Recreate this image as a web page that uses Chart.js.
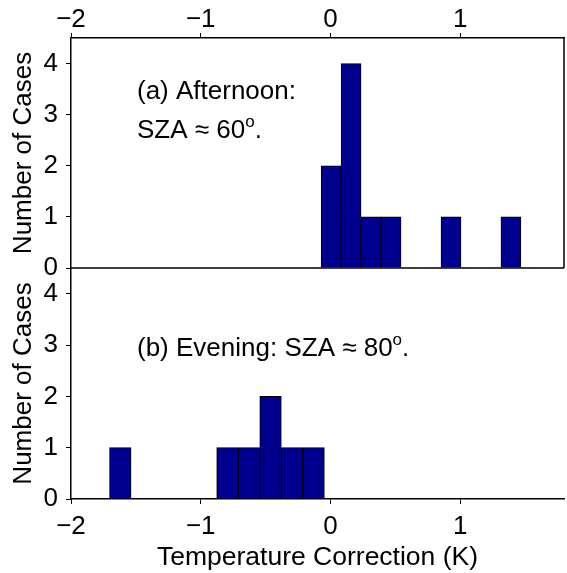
<!DOCTYPE html>
<html>
<head>
<meta charset="utf-8">
<script src="https://cdn.jsdelivr.net/npm/chart.js@4"></script>
<style>
  html, body { margin: 0; padding: 0; background: #fff; }
  #wrap { position: relative; width: 567px; height: 573px; }
  #wrap canvas { position: absolute; left: 0; top: 0; }
</style>
</head>
<body>
<div id="wrap">
  <canvas id="topChart" width="567" height="300"></canvas>
  <canvas id="botChart" width="567" height="573"></canvas>
</div>
<script>
// histogram bins (bin centre in K) and counts
const topCenters = [0.005, 0.159, 0.313, 0.467, 0.929, 1.391];
const topCounts  = [2, 4, 1, 1, 1, 1];
const botCenters = [-1.620, -0.794, -0.628, -0.462, -0.296, -0.130];
const botCounts  = [1, 1, 1, 2, 1, 1];

const xTicks = [-2, -1, 0, 1];
const yTicks = [0, 1, 2, 3, 4];
const xRange = [-2, 1.8];
const yRange = [0, 4.5];

const FONT = 'Liberation Sans, Arial, Helvetica, sans-serif';
const BAR = '#00008f';

Chart.defaults.font.family = FONT;
Chart.defaults.color = '#000';

function fmt(v) {
  return v < 0 ? '\u2212' + Math.abs(v) : String(v);
}

// box lines that the axes themselves don't draw
const framePlugin = {
  id: 'frame',
  afterDraw(chart, args, opts) {
    const { ctx, chartArea: a } = chart;
    ctx.save();
    ctx.strokeStyle = '#000';
    ctx.lineWidth = 1.5;
    ctx.beginPath();
    (opts.sides || []).forEach(s => {
      if (s === 'right') { ctx.moveTo(a.right, a.top); ctx.lineTo(a.right, a.bottom); }
      if (s === 'bottom') { ctx.moveTo(a.left, a.bottom); ctx.lineTo(a.right, a.bottom); }
    });
    ctx.stroke();
    ctx.restore();
  }
};

// panel captions, with a raised "o" for degrees
const notePlugin = {
  id: 'note',
  afterDraw(chart, args, opts) {
    const { ctx, chartArea: a } = chart;
    ctx.save();
    ctx.fillStyle = '#000';
    ctx.textBaseline = 'alphabetic';
    (opts.lines || []).forEach(l => {
      let x = a.left + l.dx;
      const y = a.top + l.dy;
      l.parts.forEach(p => {
        ctx.font = (p.sup ? '17px ' : '26px ') + FONT;
        ctx.fillText(p.t, x, p.sup ? y - 11 : y);
        x += ctx.measureText(p.t).width;
      });
    });
    ctx.restore();
  }
};

function histOptions(cfg) {
  return {
    responsive: false,
    animation: false,
    layout: { padding: cfg.padding },
    plugins: {
      legend: { display: false },
      tooltip: { enabled: false },
      frame: { sides: cfg.sides },
      note: { lines: cfg.lines }
    },
    scales: {
      x: {
        type: 'linear',
        position: cfg.xPos,
        min: xRange[0], max: xRange[1],
        offset: false,
        afterBuildTicks: s => { s.ticks = xTicks.map(v => ({ value: v })); },
        afterFit: s => { s.height = cfg.xHeight; },
        grid: { offset: false, drawOnChartArea: false, drawTicks: true, tickLength: 5, color: '#000', lineWidth: 1 },
        border: { display: true, color: '#000', width: 1.5 },
        ticks: { font: { size: 26, lineHeight: 1 }, padding: cfg.xPad, maxRotation: 0, callback: fmt },
        title: cfg.xTitle
      },
      y: {
        type: 'linear',
        min: yRange[0], max: yRange[1],
        afterBuildTicks: s => { s.ticks = yTicks.map(v => ({ value: v })); },
        afterFit: s => { s.width = 71; },
        grid: { drawOnChartArea: false, drawTicks: true, tickLength: 5, color: '#000', lineWidth: 1 },
        border: { display: true, color: '#000', width: 1.5 },
        ticks: { font: { size: 26, lineHeight: 1 }, padding: 8, callback: fmt },
        title: {
          display: true,
          text: 'Number of Cases',
          font: { size: 26, lineHeight: 1.2 },
          padding: { top: 8, bottom: 0 }
        }
      }
    }
  };
}

function barData(centers, counts) {
  return {
    datasets: [{
      data: centers.map((x, i) => ({ x: x, y: counts[i] })),
      backgroundColor: BAR,
      borderColor: '#000',
      borderWidth: 1,
      barPercentage: 1,
      categoryPercentage: 1
    }]
  };
}

new Chart(document.getElementById('topChart'), {
  type: 'bar',
  data: barData(topCenters, topCounts),
  options: histOptions({
    padding: { left: 0, right: 3, top: 0, bottom: 32 },
    xPos: 'top',
    xHeight: 38,
    xPad: 0,
    xTitle: { display: false },
    sides: ['right', 'bottom'],
    lines: [
      { dx: 66, dy: 61, parts: [{ t: '(a) Afternoon:' }] },
      { dx: 66, dy: 100, parts: [{ t: 'SZA \u2248 60' }, { t: 'o', sup: true }, { t: '.' }] }
    ]
  }),
  plugins: [framePlugin, notePlugin]
});

new Chart(document.getElementById('botChart'), {
  type: 'bar',
  data: barData(botCenters, botCounts),
  options: histOptions({
    padding: { left: 0, right: 3, top: 268, bottom: 0 },
    xPos: 'bottom',
    xHeight: 74,
    xPad: 10,
    xTitle: {
      display: true,
      text: 'Temperature Correction (K)',
      font: { size: 26.5, lineHeight: 1 },
      padding: { top: 0, bottom: 2 }
    },
    sides: [],
    lines: [
      { dx: 66, dy: 88, parts: [{ t: '(b) Evening: SZA \u2248 80' }, { t: 'o', sup: true }, { t: '.' }] }
    ]
  }),
  plugins: [framePlugin, notePlugin]
});
</script>
</body>
</html>
